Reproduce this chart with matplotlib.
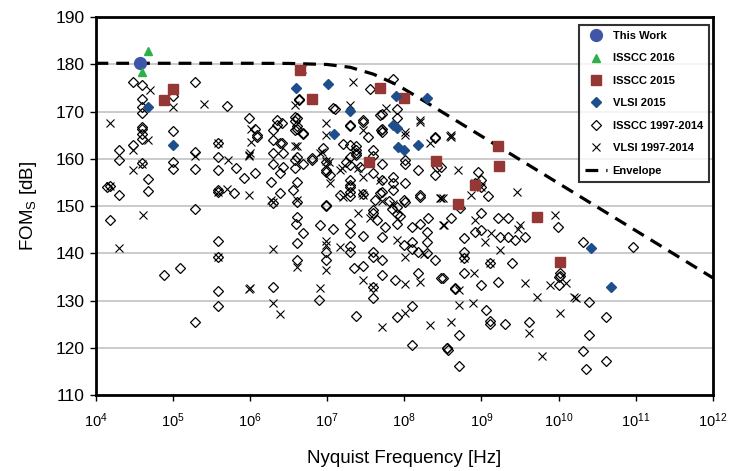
import matplotlib
matplotlib.use('Agg')
import matplotlib.pyplot as plt
import numpy as np

plt.rcParams['font.family'] = ['Liberation Sans Narrow', 'Liberation Sans', 'DejaVu Sans']
plt.rcParams['mathtext.default'] = 'regular'

# values: log10(Nyquist frequency) and FOM_S in dB
this_work_logf = [4.58]
this_work_fom = [180.2]

isscc16_logf = [4.68, 4.60]
isscc16_fom = [182.9, 178.3]

isscc15_logf = [4.89, 5.00, 6.65, 6.81, 7.69, 8.00, 7.54, 8.41, 9.21, 9.23, 8.92, 8.70, 9.72, 10.02]
isscc15_fom = [172.4, 174.8, 178.7, 172.6, 174.9, 172.9, 159.4, 159.6, 162.8, 158.5, 154.4, 150.4, 147.7, 138.2]

vlsi15_logf = [4.68, 5.00, 6.60, 7.01, 7.30, 7.09, 7.89, 8.30, 7.86, 7.90, 7.92, 8.00, 8.18, 10.42, 10.68]
vlsi15_fom = [171.0, 163.0, 175.0, 175.8, 170.1, 165.2, 173.3, 172.8, 167.1, 166.6, 162.4, 161.9, 162.9, 141.2, 132.9]

isscc_old_logf = [
    4.49, 4.60, 5.29, 4.60, 4.60, 4.60, 5.00, 5.70, 4.60, 4.60, 4.60, 4.60, 4.49, 4.30, 4.30, 4.19,
    4.30, 4.68, 4.68, 4.60, 5.00, 5.00, 5.00, 5.29, 5.29, 5.59, 5.59, 5.59, 5.59, 5.79, 5.82, 5.92,
    5.99, 6.07, 6.09, 6.07, 5.29, 4.19, 5.59, 5.59, 5.59, 5.59, 4.89, 5.09, 5.29, 4.15, 5.59,
    7.86, 7.56, 6.64, 7.10, 6.35, 6.35, 6.61, 6.61, 6.61, 6.69, 6.09, 6.30, 6.30, 6.39, 7.30, 7.47,
    7.71, 7.90, 7.90, 7.71, 7.71, 7.53, 7.30, 7.38, 7.21, 6.95, 6.80, 6.61, 6.69, 6.30, 6.30, 6.39,
    6.61, 6.28, 6.39, 6.99, 6.99, 7.30, 7.38, 7.30, 7.60, 7.60, 7.71, 7.60, 7.71, 7.71, 7.30, 7.30,
    7.17, 6.99, 7.60, 7.86, 7.86, 8.01, 8.01, 8.20, 8.01, 8.01, 8.18, 8.40, 8.42, 8.40,
    6.63, 7.08, 6.58, 6.58, 6.58, 6.69, 6.41, 6.41, 7.30, 7.47, 7.38, 7.38, 6.58, 6.58, 6.80, 6.99,
    7.04, 7.25, 7.43, 7.30, 6.56, 6.43, 6.43, 7.68, 7.70, 8.40,
    6.99, 6.61, 6.61, 6.60, 6.69, 6.61, 6.61, 6.91, 7.08, 6.99, 6.99, 7.30, 7.30, 7.30, 7.30, 7.47,
    7.35, 7.47, 7.60, 7.60, 7.71, 7.71, 7.60, 7.60, 7.88, 8.18, 8.48, 8.40, 8.29, 8.18, 8.10, 8.00,
    8.10, 8.29, 8.29, 8.31, 8.20, 8.10, 7.90, 7.90, 7.90, 7.84, 7.71, 8.20, 8.00, 7.86, 7.69, 7.62,
    7.60, 7.47, 7.30, 7.30, 6.89, 7.38, 7.90, 8.10, 8.10, 8.55, 6.30, 6.30, 7.65, 7.75, 7.80, 7.95,
    8.48, 8.96, 8.92, 9.00, 9.00, 9.09, 8.72, 8.61, 9.00, 8.92, 9.00, 9.22, 9.35, 9.24, 9.35, 9.43,
    9.56, 8.78, 8.78, 8.78, 9.11, 9.39, 9.99, 10.02, 10.02, 10.32, 10.97, 8.78, 9.00, 9.22, 8.66, 8.50,
    8.66, 9.06, 9.11, 9.11, 9.30, 9.61, 10.40, 10.62, 10.39, 10.32, 10.35, 10.62, 8.71, 8.55, 8.57, 8.71,
    10.01, 10.01]
isscc_old_fom = [
    176.3, 175.6, 176.2, 172.6, 171.0, 169.6, 173.3, 171.2, 166.7, 166.4, 165.2, 164.1, 162.9, 161.9, 159.7, 154.3,
    152.3, 155.7, 153.2, 159.2, 165.9, 159.4, 157.8, 161.5, 157.8, 163.4, 160.4, 157.6, 153.0, 152.8, 158.0, 155.9,
    168.6, 166.3, 165.0, 157.0, 149.3, 147.0, 142.7, 139.3, 132.1, 128.8, 135.4, 136.8, 125.5, 154.0, 153.3,
    176.8, 174.8, 172.6, 170.5, 168.3, 167.1, 168.6, 166.9, 166.3, 165.2, 164.7, 166.1, 164.0, 163.4, 166.9, 168.2,
    169.5, 170.5, 168.6, 166.4, 165.6, 164.7, 162.9, 161.9, 163.1, 162.2, 160.1, 160.4, 159.0, 161.2, 159.0, 156.9,
    155.0, 155.0, 152.7, 157.3, 159.4, 160.4, 160.7, 158.7, 161.9, 160.6, 159.0, 156.9, 155.6, 153.0, 154.4, 153.0,
    152.3, 150.2, 149.2, 154.8, 156.2, 159.7, 159.0, 152.3, 154.8, 150.9, 157.6, 164.7, 158.3, 156.6,
    172.4, 170.7, 168.9, 167.9, 166.1, 165.4, 167.5, 163.3, 167.1, 167.8, 162.6, 161.3, 159.7, 158.0, 159.7, 157.6,
    156.6, 159.4, 158.3, 154.1, 153.4, 161.2, 158.3, 169.3, 166.0, 164.3,
    150.0, 150.9, 147.7, 146.3, 144.4, 142.2, 138.6, 146.0, 145.1, 140.3, 138.6, 146.3, 144.2, 141.5, 140.2, 143.6,
    136.8, 137.3, 140.3, 139.2, 138.6, 135.4, 132.9, 130.5, 134.3, 135.9, 134.7, 138.6, 140.1, 140.3, 141.0, 141.8,
    142.5, 142.5, 144.6, 147.4, 146.3, 145.6, 146.3, 148.3, 149.9, 149.3, 143.5, 152.0, 151.3, 153.4, 152.7, 151.2,
    148.5, 152.6, 152.2, 155.6, 130.1, 126.8, 126.5, 128.8, 120.6, 119.9, 132.8, 150.6, 147.0, 145.5, 151.0, 147.8,
    158.3, 157.3, 154.9, 155.5, 154.0, 152.1, 149.5, 147.4, 148.5, 144.6, 144.9, 147.4, 147.4, 143.5, 143.5, 142.8,
    143.4, 143.2, 140.3, 139.0, 137.9, 137.9, 145.6, 135.8, 135.2, 142.3, 141.4, 135.8, 133.3, 134.0, 132.6, 134.7,
    132.4, 128.1, 125.7, 125.0, 125.0, 125.5, 129.7, 126.6, 122.7, 119.4, 115.5, 117.3, 122.7, 119.9, 119.5, 116.1,
    135.0, 133.4]

vlsi_old_logf = [
    4.19, 4.70, 5.00, 5.40, 4.48, 4.48, 4.68, 4.60, 5.29, 5.72, 5.59, 5.59, 5.70, 5.99, 5.99, 5.99,
    6.02, 6.02, 4.19, 4.30, 4.61, 5.99, 5.59,
    6.67, 7.34, 6.58, 7.30, 7.77, 8.20, 8.20, 6.99, 7.47, 8.01, 8.01, 6.99, 6.61, 6.00, 6.91, 6.99,
    7.17, 7.40, 7.47, 7.68, 8.33, 8.46, 8.59, 7.04, 7.47, 7.71, 6.28, 6.61, 6.93, 7.02, 7.19, 7.45,
    8.61, 8.70, 6.58,
    6.30, 6.30, 6.30, 6.39, 6.61, 6.00, 6.91, 6.99, 6.99, 6.99, 7.17, 7.21, 7.40, 7.47, 7.60, 7.71,
    7.90, 8.01, 8.01, 8.01, 8.20, 8.33, 8.48, 8.51, 8.26, 7.55, 7.85,
    8.61, 8.87, 9.46, 8.50, 8.92, 9.50, 9.48, 9.72, 9.95, 9.13, 9.05, 9.24, 8.50, 8.90, 9.56, 9.89,
    10.10, 9.72, 10.20, 8.71, 8.71, 8.89, 8.60, 9.61, 10.02, 9.79, 10.22, 9.00, 8.92, 8.78, 9.11]
vlsi_old_fom = [
    167.5, 174.6, 170.9, 171.5, 161.9, 157.6, 164.0, 159.0, 160.6, 159.7, 163.3, 153.0, 153.7, 160.9, 160.6, 152.3,
    166.4, 163.6, 154.3, 141.2, 148.2, 132.4, 139.3,
    178.9, 176.3, 171.4, 171.4, 170.7, 168.2, 167.7, 167.5, 166.1, 165.7, 165.0, 165.0, 162.6, 161.2, 161.2, 159.5,
    157.6, 158.0, 156.2, 155.5, 163.3, 151.6, 164.8, 154.8, 152.3, 151.1, 151.3, 151.2, 161.5, 159.4, 158.0, 152.7,
    164.7, 157.6, 162.6,
    150.9, 141.0, 129.4, 127.1, 137.2, 132.6, 132.6, 142.6, 141.7, 136.5, 141.4, 152.0, 148.5, 134.3, 132.9, 124.5,
    142.8, 139.2, 133.6, 127.3, 134.0, 124.8, 151.6, 146.1, 139.9, 147.5, 150.5,
    165.0, 152.3, 153.0, 151.6, 147.0, 146.0, 145.1, 147.4, 148.1, 144.2, 142.3, 140.7, 146.0, 135.8, 133.8, 133.3,
    133.8, 130.8, 130.8, 132.2, 129.1, 129.4, 125.5, 123.1, 127.4, 118.3, 130.6, 154.0, 154.9, 139.0, 137.9]

envelope_logf = [4.0, 5.0, 6.0, 6.5, 7.0, 7.3, 7.6, 7.9, 8.2, 8.5, 9.0, 9.5, 10.0, 10.5, 11.0, 11.5, 12.0]
envelope_fom = [180.2, 180.2, 180.2, 180.17, 179.95, 179.35, 177.9, 175.7, 172.8, 169.8, 164.8, 159.8,
                154.8, 149.8, 144.8, 139.8, 134.8]


def hz(logf):
    return 10 ** np.array(logf)


fig = plt.figure(figsize=(7.32, 4.71), dpi=100)
ax = fig.add_axes([0.1305, 0.161, 0.8435, 0.803])

ax.plot(hz(this_work_logf), this_work_fom, 'o', color='#3F55A8', ms=8.5, label='This Work', zorder=6)
ax.plot(hz(isscc16_logf), isscc16_fom, '^', color='#2DB04B', ms=6, label='ISSCC 2016', zorder=6)
ax.plot(hz(isscc15_logf), isscc15_fom, 's', color='#953735', ms=6.5, label='ISSCC 2015', zorder=5)
ax.plot(hz(vlsi15_logf), vlsi15_fom, 'D', color='#1F4E8C', ms=5.5, label='VLSI 2015', zorder=5)
ax.plot(hz(isscc_old_logf), isscc_old_fom, 'D', mfc='none', mec='black', mew=0.9, ms=5.2,
        linestyle='none', label='ISSCC 1997-2014', zorder=3)
ax.plot(hz(vlsi_old_logf), vlsi_old_fom, 'x', color='black', mew=0.8, ms=6,
        linestyle='none', label='VLSI 1997-2014', zorder=3)
ax.plot(hz(envelope_logf), envelope_fom, color='black', lw=2.3, dashes=(4, 2.5),
        label='Envelope', zorder=4)

ax.set_xscale('log')
ax.set_xlim(1e4, 1e12)
ax.set_ylim(110, 190)
ax.set_yticks(range(110, 191, 10))
ax.set_xticks([10.0 ** k for k in range(4, 13)])
ax.minorticks_off()
ax.yaxis.grid(True, color='#BDBDBD', lw=1.1)
ax.set_axisbelow(True)
for s in ax.spines.values():
    s.set_linewidth(2)
ax.tick_params(axis='y', labelsize=12.5, length=4, width=1, pad=4)
ax.tick_params(axis='x', labelsize=10.5, length=4, width=1, pad=8)

ax.set_xlabel('Nyquist Frequency [Hz]', fontsize=13.5, labelpad=14)
ax.set_ylabel('FOM$_S$ [dB]', fontsize=13.5, labelpad=12)

leg = ax.legend(loc='upper right', bbox_to_anchor=(0.997, 0.985), frameon=True, fancybox=False,
                prop={'weight': 'bold', 'size': 8, 'family': ['Liberation Sans', 'DejaVu Sans']},
                handlelength=2.0, labelspacing=1.12, borderpad=0.55, handletextpad=0.5,
                borderaxespad=0.2, numpoints=1)
leg.get_frame().set_edgecolor('black')
leg.get_frame().set_linewidth(1.5)
leg.set_zorder(10)

fig.savefig('out.png', dpi=100)
